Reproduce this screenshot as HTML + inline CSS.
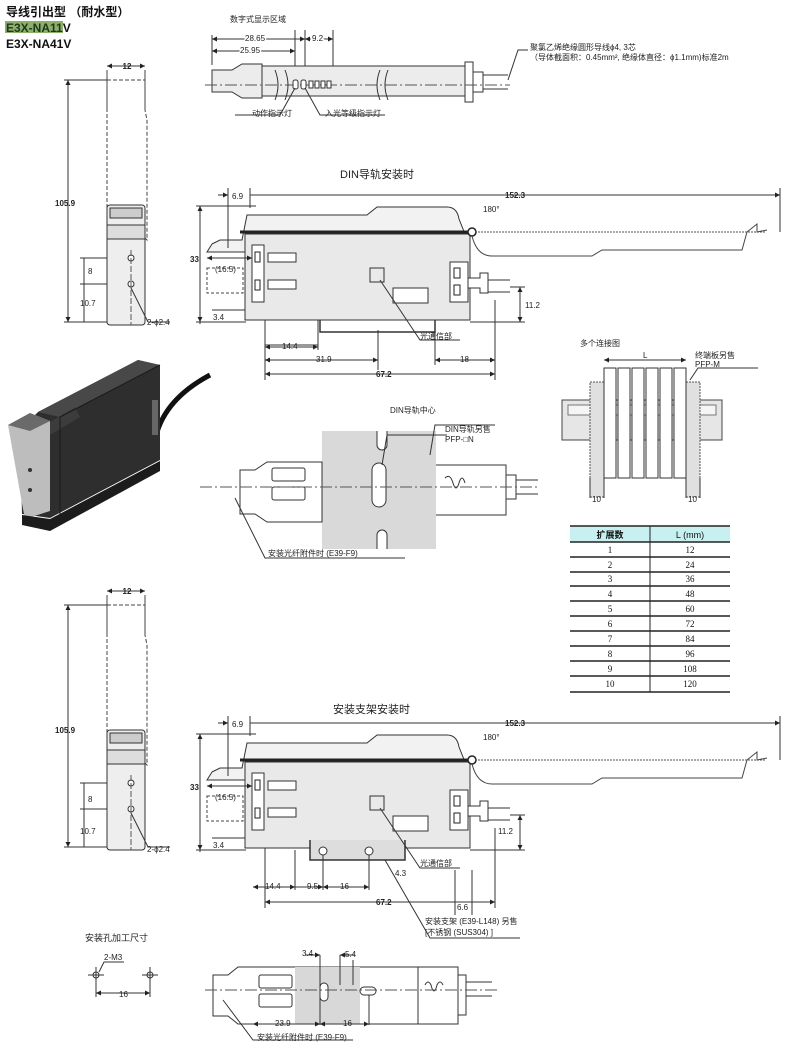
<!DOCTYPE html>
<html><head><meta charset="utf-8"><style>
body{margin:0;background:#fff;}
svg{display:block;font-family:"Liberation Sans","Noto Sans CJK SC",sans-serif;}
.t{font-size:8px;fill:#222}
</style></head><body>
<svg width="790" height="1056" viewBox="0 0 790 1056" xmlns="http://www.w3.org/2000/svg">
<defs>
<marker id="a" viewBox="0 0 6 6" refX="6" refY="3" markerWidth="5" markerHeight="5" orient="auto-start-reverse"><path d="M0,0L6,3L0,6z" fill="#222"/></marker>
<g id="side">
 <path d="M107,70 v40 M145,70 v40" stroke="#444" fill="none"/>
 <path d="M107,80 h38 v30 l2,10 v120 q-10,-10 -20,0 q-10,10 -20,0 v-120 l0,-10z" stroke="#444" stroke-dasharray="4,2" fill="none"/>
 <rect x="107" y="205" width="38" height="120" rx="3" fill="#eee" stroke="#333"/>
 <rect x="110" y="208" width="32" height="10" fill="#ccc" stroke="#333"/>
 <rect x="107" y="225" width="38" height="14" fill="#ddd" stroke="#333"/>
 <circle cx="131" cy="258" r="3" fill="#fff" stroke="#333"/>
 <circle cx="131" cy="284" r="3" fill="#fff" stroke="#333"/>
 <line x1="131" y1="250" x2="131" y2="325" stroke="#555" stroke-dasharray="6,2"/>
 <line x1="68" y1="80" x2="68" y2="322" stroke="#333" marker-start="url(#a)" marker-end="url(#a)"/>
 <line x1="64" y1="80" x2="107" y2="80" stroke="#333"/>
 <line x1="64" y1="322" x2="107" y2="322" stroke="#333"/>
 <line x1="107" y1="66" x2="145" y2="66" stroke="#333" marker-start="url(#a)" marker-end="url(#a)"/>
 <line x1="80" y1="258" x2="107" y2="258" stroke="#333"/><line x1="80" y1="284" x2="107" y2="284" stroke="#333"/>
 <line x1="84" y1="258" x2="84" y2="322" stroke="#333"/>
 <line x1="131" y1="288" x2="148" y2="322" stroke="#333"/><line x1="148" y1="322" x2="170" y2="322" stroke="#333"/>
</g>
<g id="body">
 <path d="M212,244 l8,-4 h22 l5,-25 h120 l10,-8 h70 q10,0 12,12 l8,20 v13 h-260z" fill="#f2f2f2" stroke="#333"/>
 <line x1="240" y1="232" x2="470" y2="232" stroke="#222" stroke-width="3"/>
 <rect x="245" y="234" width="225" height="86" fill="#e9e9e9" stroke="#333"/>
 <rect x="252" y="245" width="12" height="57" fill="#fff" stroke="#333"/>
 <rect x="255" y="252" width="5" height="10" fill="none" stroke="#222"/><rect x="255" y="280" width="5" height="10" fill="none" stroke="#222"/>
 <rect x="268" y="253" width="28" height="9" fill="#fff" stroke="#333"/><rect x="268" y="280" width="28" height="9" fill="#fff" stroke="#333"/>
 <rect x="370" y="268" width="14" height="14" fill="none" stroke="#333"/>
 <rect x="393" y="288" width="35" height="15" fill="#fff" stroke="#333"/>
 <rect x="450" y="262" width="18" height="40" fill="#fff" stroke="#333"/>
 <rect x="454" y="268" width="6" height="10" fill="none" stroke="#222"/><rect x="454" y="285" width="6" height="10" fill="none" stroke="#222"/>
 <path d="M468,278 h12 v-5 h8 v20 h-8 v-5 h-12z" fill="#fff" stroke="#333"/>
 <path d="M488,280 h22 M488,292 h22" stroke="#333"/>
 <circle cx="472" cy="232" r="4" fill="#fff" stroke="#222" stroke-width="1.5"/>
 <path d="M475,232 h290" stroke="#555" stroke-dasharray="2,1"/>
 <path d="M472,236 q5,20 20,20 h100 l10,-6 h140 l5,-18 l10,-8 v8 l10,-2" fill="none" stroke="#444"/>
 <path d="M200,206 v118 M196,206 h60 M196,322 h50 M228,188 v60 M250,188 v20 M780,188 v44" stroke="#333" fill="none"/>
 <line x1="200" y1="206" x2="200" y2="322" stroke="#333" marker-start="url(#a)" marker-end="url(#a)"/>
 <line x1="250" y1="195" x2="780" y2="195" stroke="#333" marker-end="url(#a)"/>
 <line x1="218" y1="195" x2="228" y2="195" stroke="#333" marker-end="url(#a)"/>
 <path d="M207,268 h36 v25 h-36 z" fill="none" stroke="#444" stroke-dasharray="3,2"/>
 <line x1="207" y1="258" x2="252" y2="258" stroke="#333" marker-start="url(#a)" marker-end="url(#a)"/>
 <line x1="212" y1="310" x2="245" y2="310" stroke="#333"/>
 <line x1="520" y1="287" x2="520" y2="322" stroke="#333" marker-start="url(#a)" marker-end="url(#a)"/>
 <path d="M470,322 h55 M510,287 h15" stroke="#333"/>
 <line x1="265" y1="374" x2="495" y2="374" stroke="#333" marker-start="url(#a)" marker-end="url(#a)"/>
 <path d="M265,320 v60 M495,300 v80" stroke="#333"/>
</g>
</defs>

<!-- Title -->
<text x="6" y="16" font-size="12" font-weight="bold" fill="#111">导线引出型 （耐水型）</text>
<rect x="5" y="21" width="58" height="12" fill="#8fae6d"/>
<text x="6" y="32" font-size="12" font-weight="bold" fill="#1a3a1a">E3X-NA11<tspan fill="#111">V</tspan></text>
<text x="6" y="48" font-size="12" font-weight="bold" fill="#111">E3X-NA41V</text>

<!-- side views -->
<use href="#side"/>
<text x="127" y="69" class="t" text-anchor="middle" font-weight="bold">12</text>
<text x="55" y="206" class="t" font-weight="bold">105.9</text>
<text x="88" y="274" class="t">8</text><text x="80" y="306" class="t">10.7</text>
<text x="147" y="325" class="t">2-ϕ2.4</text>
<use href="#side" y="525"/>
<text x="127" y="594" class="t" text-anchor="middle" font-weight="bold">12</text>
<text x="55" y="733" class="t" font-weight="bold">105.9</text>
<text x="88" y="802" class="t">8</text><text x="80" y="834" class="t">10.7</text>
<text x="147" y="852" class="t">2-ϕ2.4</text>

<!-- top view -->
<text x="230" y="22" class="t" font-size="9">数字式显示区域</text>
<path d="M212,35 v30 M295,30 v65 M305,30 v60 M333,30 v65" stroke="#333" fill="none"/>
<line x1="212" y1="39" x2="305" y2="39" stroke="#333" marker-start="url(#a)" marker-end="url(#a)"/>
<line x1="212" y1="51" x2="295" y2="51" stroke="#333" marker-start="url(#a)" marker-end="url(#a)"/>
<line x1="305" y1="39" x2="333" y2="39" stroke="#333" marker-start="url(#a)" marker-end="url(#a)"/>
<text x="245" y="41" class="t" font-size="7" fill="#222" style="paint-order:stroke" stroke="#fff" stroke-width="3">28.65</text>
<text x="240" y="53" class="t" font-size="7" stroke="#fff" stroke-width="3" style="paint-order:stroke">25.95</text>
<text x="312" y="41" class="t" font-size="7" stroke="#fff" stroke-width="3" style="paint-order:stroke">9.2</text>
<rect x="256" y="66" width="210" height="30" fill="#ececec" stroke="#333"/>
<path d="M212,70 h20 l10,-6 h20 v34 h-20 l-10,-6 h-20z" fill="#ececec" stroke="#333"/>
<rect x="465" y="62" width="8" height="40" fill="#fff" stroke="#333"/>
<path d="M473,72 h10 v20 h-10 M483,75 h25 M483,89 h25" stroke="#333" fill="none"/>
<line x1="205" y1="85" x2="510" y2="85" stroke="#555" stroke-dasharray="12,3,2,3"/>
<rect x="293" y="80" width="5" height="9" rx="2" fill="#fff" stroke="#333"/>
<rect x="301" y="80" width="5" height="9" rx="2" fill="#fff" stroke="#333"/>
<rect x="309" y="81" width="4" height="7" fill="#fff" stroke="#333"/><rect x="315" y="81" width="4" height="7" fill="#fff" stroke="#333"/><rect x="321" y="81" width="4" height="7" fill="#fff" stroke="#333"/><rect x="327" y="81" width="4" height="7" fill="#fff" stroke="#333"/>
<path d="M275,70 q6,15 0,30 M285,70 q6,15 0,30 M380,70 q-6,15 0,30 M388,70 q-6,15 0,30" stroke="#333" fill="none"/>
<path d="M295,88 l-15,27 h-45 M305,88 l15,27 h65" stroke="#333" fill="none"/>
<text x="252" y="116" class="t" font-size="7">动作指示灯</text>
<text x="325" y="116" class="t" font-size="7">入光等级指示灯</text>
<path d="M508,80 l10,-30 h10" stroke="#333" fill="none"/>
<text x="530" y="50" class="t" font-size="7">聚氯乙烯绝缘圆形导线ϕ4, 3芯</text>
<text x="530" y="60" class="t" font-size="7">（导体截面积：0.45mm², 绝缘体直径：ϕ1.1mm)标准2m</text>

<!-- DIN view -->
<text x="340" y="178" font-size="11" fill="#222">DIN导轨安装时</text>
<use href="#body"/>
<path d="M320,320 v12 h115 v-12" fill="none" stroke="#333" stroke-width="1.5"/>
<text x="232" y="199" class="t">6.9</text><text x="505" y="198" class="t" font-weight="bold">152.3</text>
<text x="483" y="212" class="t">180°</text>
<text x="190" y="262" class="t" font-weight="bold">33</text>
<text x="215" y="272" class="t">(16.5)</text>
<text x="213" y="320" class="t">3.4</text>
<text x="525" y="308" class="t">11.2</text>
<path d="M265,345 h53 M318,320 v30 M378,330 v40 M435,330 v35" stroke="#333"/>
<line x1="265" y1="347" x2="318" y2="347" stroke="#333" marker-start="url(#a)" marker-end="url(#a)"/>
<line x1="265" y1="360" x2="378" y2="360" stroke="#333" marker-start="url(#a)" marker-end="url(#a)"/>
<line x1="435" y1="360" x2="495" y2="360" stroke="#333" marker-start="url(#a)" marker-end="url(#a)"/>
<text x="282" y="349" class="t">14.4</text><text x="316" y="362" class="t">31.9</text><text x="460" y="362" class="t">18</text>
<text x="376" y="377" class="t" font-weight="bold">67.2</text>
<path d="M380,280 l40,60 h40" stroke="#333" fill="none"/><text x="420" y="339" class="t" font-size="7">光通信部</text>

<!-- photo -->
<path d="M155,440 q8,-40 55,-65" stroke="#111" stroke-width="5" fill="none"/>
<path d="M20,430 l18,-18 l100,-52 l22,5 v95 l-110,58 l-28,-4 z" fill="#2e2e2e"/>
<path d="M38,412 l100,-52 l22,5 l-100,52 z" fill="#484848"/>
<path d="M45,425 l30,-18 l5,10 l-30,18z" fill="#3c3c3c"/>
<path d="M60,417 v100 M60,417 l100,-52" stroke="#1a1a1a" fill="none"/>
<path d="M8,425 l22,-12 l20,8 v90 l-25,8 l-2,-10 z" fill="#bdbdbd"/>
<path d="M8,425 l22,-12 l20,8 l-20,10 z" fill="#6a6a6a"/>
<circle cx="30" cy="470" r="2" fill="#333"/><circle cx="30" cy="490" r="2" fill="#333"/>
<path d="M22,515 l28,4 l110,-58 v10 l-110,60 l-28,-6z" fill="#1c1c1c"/>
<rect x="152" y="400" width="6" height="35" fill="#666"/>

<!-- rail view -->
<rect x="322" y="431" width="114" height="118" fill="#d9d9d9"/>
<path d="M377,431 v14 a5,5 0 0 0 10,0 v-14 M377,549 v-14 a5,5 0 0 1 10,0 v14" stroke="#333" fill="#fff"/>
<rect x="372" y="463" width="14" height="44" rx="7" fill="#fff" stroke="#333"/>
<path d="M240,470 h15 l12,-8 h55 v60 h-55 l-12,-8 h-15z" fill="#fff" stroke="#333"/>
<rect x="272" y="468" width="33" height="13" rx="2" fill="none" stroke="#333"/><rect x="272" y="487" width="33" height="13" rx="2" fill="none" stroke="#333"/>
<path d="M436,465 h70 v50 h-70" fill="#fff" stroke="#333"/>
<path d="M445,478 q5,-5 8,5 q3,10 6,0 q3,-10 6,0" stroke="#333" fill="none"/>
<path d="M506,475 h10 v24 h-10 M516,480 h22 M516,494 h22" stroke="#333" fill="none"/>
<line x1="200" y1="487" x2="540" y2="487" stroke="#555" stroke-dasharray="12,3,2,3"/>
<path d="M235,498 l30,60 h140" stroke="#333" fill="none"/>
<text x="268" y="556" class="t" font-size="7">安装光纤附件时 (E39-F9)</text>
<path d="M382,465 l5,-30 h60" stroke="#333" fill="none"/><text x="390" y="413" class="t" font-size="7">DIN导轨中心</text>
<path d="M430,455 l5,-30 h60" stroke="#333" fill="none"/><text x="445" y="432" class="t" font-size="7">DIN导轨另售</text><text x="445" y="442" class="t" font-size="7">PFP-□N</text>

<!-- multi connection -->
<text x="580" y="346" class="t" font-size="8">多个连接图</text>
<rect x="562" y="400" width="160" height="40" fill="#e6e6e6" stroke="#444"/>
<rect x="568" y="405" width="148" height="10" fill="#f5f5f5" stroke="#777"/>
<rect x="590" y="382" width="14" height="115" fill="#e0e0e0" stroke="#555" stroke-dasharray="2,1"/>
<rect x="686" y="382" width="14" height="115" fill="#e0e0e0" stroke="#555" stroke-dasharray="2,1"/>
<g stroke="#333" fill="#fff">
<rect x="604" y="368" width="12" height="110"/><rect x="618" y="368" width="12" height="110"/><rect x="632" y="368" width="12" height="110"/><rect x="646" y="368" width="12" height="110"/><rect x="660" y="368" width="12" height="110"/><rect x="674" y="368" width="12" height="110"/>
</g>
<line x1="604" y1="360" x2="686" y2="360" stroke="#333" marker-start="url(#a)" marker-end="url(#a)"/>
<text x="643" y="358" class="t" font-size="7">L</text>
<path d="M690,380 l8,-12 h60" stroke="#333" fill="none"/>
<text x="695" y="358" class="t" font-size="7">终端板另售</text><text x="695" y="367" class="t" font-size="7">PFP-M</text>
<path d="M590,478 v20 M604,478 v20 M686,478 v20 M700,478 v20" stroke="#333"/>
<text x="592" y="502" class="t" font-size="7">10</text><text x="688" y="502" class="t" font-size="7">10</text>

<!-- table -->
<rect x="570" y="526" width="160" height="16" fill="#c8f0f0"/>
<g stroke="#222" stroke-width="1.5">
<line x1="570" y1="526" x2="730" y2="526"/><line x1="570" y1="542" x2="730" y2="542"/>
<line x1="570" y1="557" x2="730" y2="557"/><line x1="570" y1="572" x2="730" y2="572"/><line x1="570" y1="586" x2="730" y2="586"/><line x1="570" y1="601" x2="730" y2="601"/><line x1="570" y1="616" x2="730" y2="616"/><line x1="570" y1="631" x2="730" y2="631"/><line x1="570" y1="646" x2="730" y2="646"/><line x1="570" y1="661" x2="730" y2="661"/><line x1="570" y1="676" x2="730" y2="676"/><line x1="570" y1="692" x2="730" y2="692"/>
<line x1="650" y1="526" x2="650" y2="692" stroke-width="1"/>
</g>
<g font-family="Liberation Serif,serif" font-size="9" fill="#111" text-anchor="middle">
<text x="610" y="538" font-family="Liberation Sans,Noto Sans CJK SC,sans-serif" font-weight="bold">扩展数</text><text x="690" y="538" font-family="Liberation Sans,sans-serif">L (mm)</text>
<text x="610" y="553">1</text><text x="690" y="553">12</text>
<text x="610" y="568">2</text><text x="690" y="568">24</text>
<text x="610" y="582">3</text><text x="690" y="582">36</text>
<text x="610" y="597">4</text><text x="690" y="597">48</text>
<text x="610" y="612">5</text><text x="690" y="612">60</text>
<text x="610" y="627">6</text><text x="690" y="627">72</text>
<text x="610" y="642">7</text><text x="690" y="642">84</text>
<text x="610" y="657">8</text><text x="690" y="657">96</text>
<text x="610" y="672">9</text><text x="690" y="672">108</text>
<text x="610" y="687">10</text><text x="690" y="687">120</text>
</g>

<!-- bracket view -->
<text x="333" y="713" font-size="11" fill="#222">安装支架安装时</text>
<use href="#body" y="528"/>
<path d="M310,840 v20 h95 v-20" fill="#ddd" stroke="#333" stroke-width="1.5"/>
<circle cx="323" cy="851" r="4" fill="#fff" stroke="#333"/><circle cx="369" cy="851" r="4" fill="#fff" stroke="#333"/>
<text x="232" y="727" class="t">6.9</text><text x="505" y="726" class="t" font-weight="bold">152.3</text>
<text x="483" y="740" class="t">180°</text>
<text x="190" y="790" class="t" font-weight="bold">33</text>
<text x="215" y="800" class="t">(16.5)</text>
<text x="213" y="848" class="t">3.4</text><text x="498" y="834" class="t">11.2</text>
<line x1="253" y1="887" x2="295" y2="887" stroke="#333" marker-start="url(#a)" marker-end="url(#a)"/>
<line x1="295" y1="887" x2="323" y2="887" stroke="#333" marker-end="url(#a)"/>
<line x1="323" y1="887" x2="369" y2="887" stroke="#333" marker-start="url(#a)" marker-end="url(#a)"/>
<path d="M295,850 v40 M323,855 v35 M369,855 v35 M455,870 v45 M472,870 v45" stroke="#333"/>
<text x="265" y="889" class="t">14.4</text><text x="307" y="889" class="t">9.5</text><text x="340" y="889" class="t">16</text>
<text x="376" y="905" class="t" font-weight="bold">67.2</text>
<text x="457" y="910" class="t">6.6</text><text x="395" y="876" class="t">4.3</text>
<text x="420" y="866" class="t" font-size="7">光通信部</text>
<path d="M380,808 l40,60 h40" stroke="#333" fill="none"/>
<path d="M385,860 l45,78 h90" stroke="#333" fill="none"/>
<text x="425" y="924" class="t" font-size="7">安装支架 (E39-L148) 另售</text>
<text x="425" y="935" class="t" font-size="7">[不锈钢 (SUS304) ]</text>

<!-- bottom rail/bracket view -->
<path d="M213,975 h15 l10,-8 h180 v57 h-180 l-10,-8 h-15z" fill="#fff" stroke="#333"/>
<rect x="295" y="967" width="65" height="57" fill="#d8d8d8"/>
<rect x="259" y="975" width="33" height="13" rx="2" fill="none" stroke="#333"/><rect x="259" y="994" width="33" height="13" rx="2" fill="none" stroke="#333"/>
<rect x="320" y="983" width="8" height="18" rx="4" fill="#fff" stroke="#333"/>
<rect x="360" y="987" width="16" height="8" rx="4" fill="#fff" stroke="#333"/>
<path d="M418,967 h40 v57 h-40 M458,975 h8 v40 h-8 M466,982 h26 M466,996 h26" stroke="#333" fill="none"/>
<path d="M425,985 q3,-6 6,0 q3,12 6,0 q3,-6 6,0" stroke="#333" fill="none"/>
<line x1="205" y1="990" x2="500" y2="990" stroke="#555" stroke-dasharray="12,3,2,3"/>
<path d="M320,955 v70 M340,955 v30 M353,960 v25 M369,995 v30" stroke="#333"/>
<line x1="305" y1="955" x2="320" y2="955" stroke="#333" marker-end="url(#a)"/>
<line x1="355" y1="955" x2="340" y2="955" stroke="#333" marker-end="url(#a)"/>
<text x="302" y="956" class="t">3.4</text><text x="345" y="957" class="t">5.4</text>
<line x1="253" y1="1024" x2="320" y2="1024" stroke="#333" marker-start="url(#a)" marker-end="url(#a)"/>
<line x1="320" y1="1024" x2="369" y2="1024" stroke="#333" marker-start="url(#a)" marker-end="url(#a)"/>
<text x="275" y="1026" class="t">23.9</text><text x="343" y="1026" class="t">16</text>
<path d="M223,1000 l30,40 h100" stroke="#333" fill="none"/>
<text x="257" y="1040" class="t" font-size="7">安装光纤附件时 (E39-F9)</text>

<!-- hole dims -->
<text x="85" y="941" font-size="9" fill="#222">安装孔加工尺寸</text>
<circle cx="96" cy="975" r="3" fill="#fff" stroke="#333"/><circle cx="150" cy="975" r="3" fill="#fff" stroke="#333"/>
<path d="M88,975 h16 M96,967 v30 M142,975 h16 M150,967 v30" stroke="#333"/>
<path d="M99,972 l5,-10 h20" stroke="#333" fill="none"/><text x="104" y="960" class="t" font-size="7">2-M3</text>
<line x1="96" y1="993" x2="150" y2="993" stroke="#333" marker-start="url(#a)" marker-end="url(#a)"/>
<text x="119" y="997" class="t" font-size="7">16</text>
</svg>
</body></html>
